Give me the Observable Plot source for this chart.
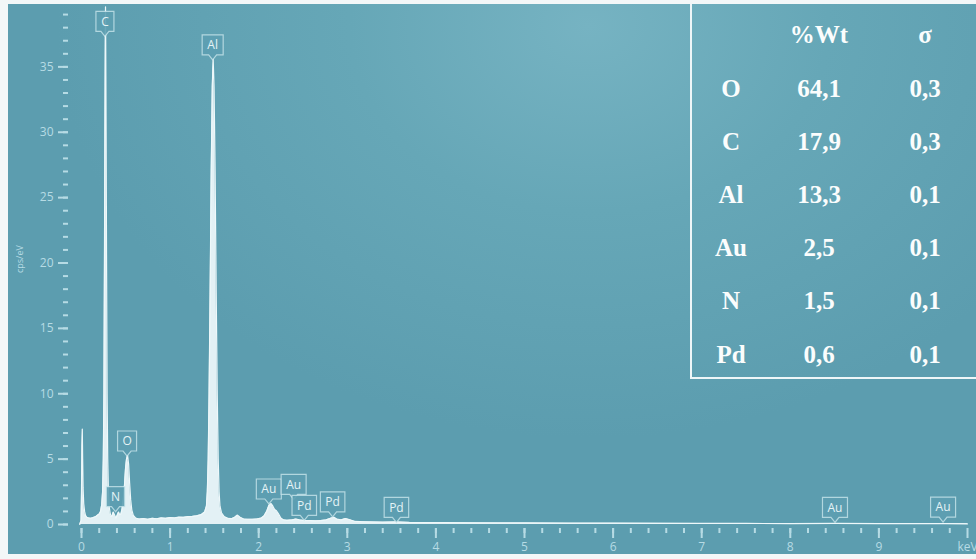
<!DOCTYPE html>
<html>
<head>
<meta charset="utf-8">
<script src="https://cdn.jsdelivr.net/npm/d3@7"></script>
<script src="https://cdn.jsdelivr.net/npm/@observablehq/plot@0.6"></script>
<style>
  body { margin: 0; background: #f3f7f8; }
  #wrap { position: relative; width: 976px; height: 559px; overflow: hidden; background: #f3f7f8; }
  #panel { position: absolute; left: 8px; top: 4px; width: 968px; height: 550px;
    background: radial-gradient(ellipse 55% 75% at 60% 4%, #76b3c2 0%, #66a7b7 45%, #5c9daf 100%); }
  #chart { position: absolute; left: 0; top: 0; }
  #table { position: absolute; left: 690px; top: 4px; width: 286px; height: 373px;
    border-left: 2px solid #eef6f8; border-bottom: 2px solid #eef6f8; }
  #table span { position: absolute; width: 120px; margin-left: -60px; text-align: center;
    font: bold 25px "Liberation Serif", "Times New Roman", serif; line-height: 25px; color: #fbfdfd; white-space: nowrap; }
</style>
</head>
<body>
<div id="wrap">
  <div id="panel"></div>
  <div id="chart"></div>
  <div id="table"></div>
</div>
<script>
// EDS spectrum: photon energy (keV) and count rate (cps/eV)
const energy = [
  -0.02, -0.005, 0.000, 0.005, 0.009, 0.013, 0.018, 0.025, 0.035, 0.045,
  0.06, 0.08, 0.10, 0.12, 0.14, 0.16, 0.18, 0.20, 0.215, 0.228,
  0.238, 0.246, 0.253, 0.259, 0.264, 0.268, 0.271, 0.274, 0.278, 0.283,
  0.289, 0.296, 0.304, 0.314, 0.325, 0.335, 0.345, 0.358, 0.372, 0.388,
  0.403, 0.418, 0.432, 0.445, 0.458, 0.472, 0.485, 0.497, 0.508, 0.52,
  0.532, 0.543, 0.555, 0.568, 0.585, 0.61, 0.65, 0.70, 0.75, 0.80,
  0.85, 0.90, 0.95, 1.00, 1.05, 1.10, 1.15, 1.20, 1.25, 1.30,
  1.35, 1.39, 1.41, 1.42, 1.43, 1.44, 1.452, 1.464, 1.476, 1.486,
  1.496, 1.508, 1.52, 1.532, 1.543, 1.553, 1.563, 1.58, 1.61, 1.65,
  1.70, 1.73, 1.76, 1.79, 1.83, 1.88, 1.93, 1.98, 2.03, 2.06,
  2.09, 2.115, 2.14, 2.16, 2.18, 2.20, 2.22, 2.25, 2.28, 2.32,
  2.38, 2.42, 2.46, 2.52, 2.58, 2.64, 2.70, 2.76, 2.82, 2.85,
  2.88, 2.93, 2.98, 3.02, 3.08, 3.15, 3.25, 3.40, 3.55, 3.70,
  3.90, 4.10, 4.40, 4.70, 5.00, 5.50, 6.00, 6.50, 7.00, 7.50,
  8.00, 8.50, 9.00, 9.50, 9.75, 10.0
];
const counts = [
  0.0, 0.3, 2.5, 6.0, 7.3, 5.0, 2.8, 1.6, 1.0, 0.7,
  0.55, 0.5, 0.48, 0.5, 0.55, 0.6, 0.7, 0.8, 1.0, 1.5,
  2.5, 5, 10, 20, 30, 36, 39.6, 36, 30, 20,
  10, 5, 2.5, 1.3, 0.8, 0.62, 0.65, 0.95, 0.75, 0.5,
  0.7, 0.95, 0.75, 0.8, 1.2, 1.9, 3.0, 4.3, 5.0, 5.3,
  4.6, 3.2, 1.9, 1.1, 0.7, 0.5, 0.42, 0.45, 0.40, 0.47,
  0.44, 0.5, 0.47, 0.53, 0.5, 0.56, 0.55, 0.6, 0.62, 0.66,
  0.75, 0.95, 1.4, 2.5, 5, 10, 18, 27, 33.5, 35.6,
  33.5, 27, 18, 10, 5, 2.5, 1.4, 0.9, 0.6, 0.48,
  0.45, 0.55, 0.72, 0.55, 0.42, 0.4, 0.4, 0.42, 0.5, 0.65,
  1.0, 1.45, 1.6, 1.4, 1.15, 1.05, 0.85, 0.5, 0.35, 0.32,
  0.36, 0.42, 0.35, 0.3, 0.3, 0.28, 0.3, 0.35, 0.5, 0.55,
  0.42, 0.35, 0.45, 0.38, 0.25, 0.22, 0.2, 0.18, 0.2, 0.16,
  0.15, 0.14, 0.13, 0.12, 0.12, 0.1, 0.1, 0.09, 0.08, 0.08,
  0.07, 0.08, 0.07, 0.06, 0.07, 0.05
];

// Element line markers: element, line energy (keV), marker height (cps/eV)
const tagElement = ["C", "Al", "O", "N", "Au", "Au", "Pd", "Pd", "Pd", "Au", "Au"];
const tagEnergy  = [0.27, 1.486, 0.52, 0.39, 2.12, 2.40, 2.52, 2.84, 3.56, 8.51, 9.73];
const tagLevel   = [37.3, 35.5, 5.2, 0.94, 1.53, 1.88, 0.28, 0.55, 0.12, 0.12, 0.15];

// Quantification table
const tableHeader   = ["", "%Wt", "σ"];
const tableElements = ["O", "C", "Al", "Au", "N", "Pd"];
const tableWt       = [64.1, 17.9, 13.3, 2.5, 1.5, 0.6];
const tableSigma    = [0.3, 0.3, 0.1, 0.1, 0.1, 0.1];

const spectrum = energy.map((e, i) => ({keV: e, cps: counts[i]}));
const tags = tagElement.map((el, i) => ({el, keV: tagEnergy[i], cps: tagLevel[i]}));

const axisColor = "#b6dbe4";
const glyphWidth = {A: 8, C: 8, N: 8.5, O: 9, P: 7, d: 7.5, l: 3, u: 7};

// Boxed element labels with a pointer at the line position
function tagMark(index, {x, y}) {
  const g = d3.create("svg:g")
    .attr("font-family", "'Open Sans', sans-serif")
    .attr("font-size", 12);
  for (const t of tags) {
    const px = x(t.keV), py = y(t.cps);
    const w = 10 + [...t.el].reduce((s, c) => s + (glyphWidth[c] || 7), 0);
    const h = 20, p = 5, hw = w / 2;
    const path = `M${px},${py}L${px - 4},${py - p}H${px - hw}V${py - p - h}H${px + hw}V${py - p}H${px + 4}Z`;
    g.append("path")
      .attr("d", path)
      .attr("fill", "#5d9fb1")
      .attr("fill-opacity", 0.9)
      .attr("stroke", "#cfe9ef")
      .attr("stroke-opacity", 0.75)
      .attr("stroke-width", 1.2);
    g.append("text")
      .attr("x", px)
      .attr("y", py - p - h / 2)
      .attr("text-anchor", "middle")
      .attr("dy", "0.36em")
      .attr("fill", "#e4f3f6")
      .text(t.el);
  }
  return g.node();
}

const chart = Plot.plot({
  width: 976,
  height: 559,
  marginLeft: 68,
  marginRight: 9,
  marginTop: 1,
  marginBottom: 31,
  x: {domain: [0, 10], insetLeft: 13},
  y: {domain: [0, 40], insetBottom: 4},
  style: {background: "transparent", color: axisColor, fontFamily: "'Open Sans', sans-serif", overflow: "hidden"},
  marks: [
    Plot.axisY(d3.range(0, 40), {tickSize: 5, strokeWidth: 2, tickFormat: () => "", label: null}),
    Plot.axisY(d3.range(0, 40, 5), {tickSize: 10, tickPadding: 5, strokeWidth: 2, fontSize: 12, label: null}),
    Plot.axisX(d3.range(0, 50).map(i => i / 5), {tickSize: 5, strokeWidth: 2, tickFormat: () => "", label: null}),
    Plot.axisX(d3.range(0, 11), {tickSize: 10, tickPadding: 4, strokeWidth: 2, fontSize: 12,
      tickFormat: d => d === 10 ? "keV" : String(d), label: null}),
    Plot.text(["cps/eV"], {frameAnchor: "left", text: d => d, rotate: -90, dx: -48, dy: 8, fontSize: 9, fill: axisColor}),
    Plot.areaY(spectrum, {x: "keV", y: "cps", fill: "#eaf6f9", fillOpacity: 0.95}),
    Plot.lineY(spectrum, {x: "keV", y: "cps", stroke: "#eef8fa", strokeWidth: 1.2}),
    tagMark
  ]
});
document.getElementById("chart").append(chart);

// Table overlay: element, weight percent, sigma
const table = document.getElementById("table");
const colX = [39, 127, 233];
const rowTop = 31, rowStep = 53.2, capCenter = 12.7;
const fmt = v => v.toFixed(1).replace(".", ",");
const rows = [tableHeader].concat(tableElements.map((el, i) => [el, fmt(tableWt[i]), fmt(tableSigma[i])]));
rows.forEach((row, r) => {
  row.forEach((txt, c) => {
    if (!txt) return;
    const s = document.createElement("span");
    s.textContent = txt;
    s.style.left = colX[c] + "px";
    s.style.top = (rowTop + r * rowStep - capCenter) + "px";
    table.append(s);
  });
});
</script>
</body>
</html>
